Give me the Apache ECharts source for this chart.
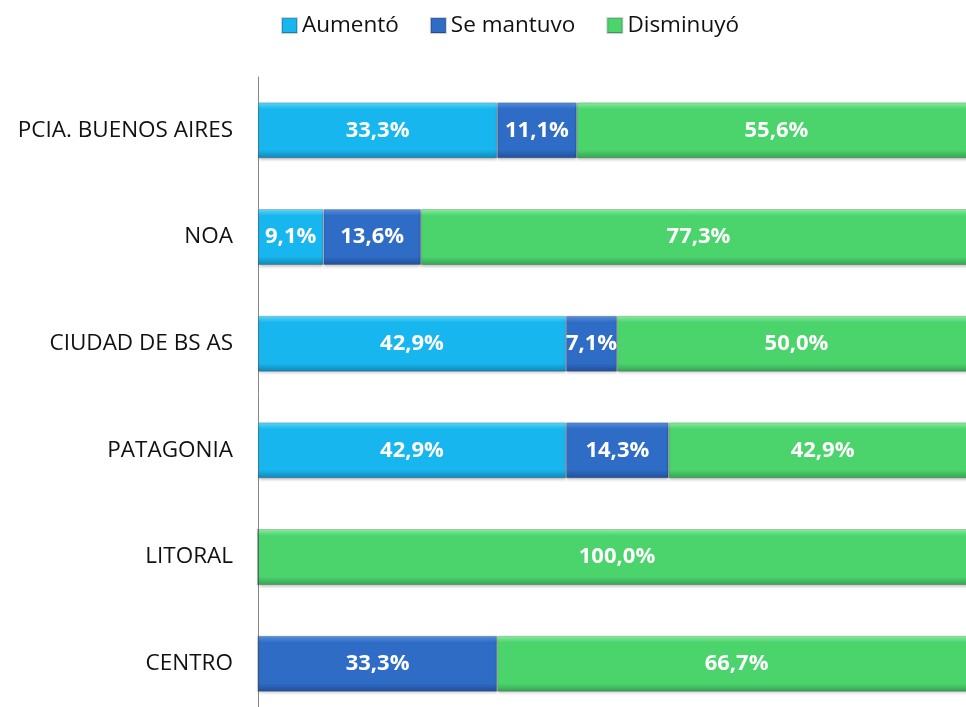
<!DOCTYPE html>
<html>
<head>
<meta charset="utf-8">
<script src="https://cdn.jsdelivr.net/npm/echarts@6/dist/echarts.min.js"></script>
<style>html,body{margin:0;padding:0;background:#fff}#c{width:966px;height:707px}</style>
</head>
<body>
<div id="c"></div>
<script>
const categories = ['CENTRO', 'LITORAL', 'PATAGONIA', 'CIUDAD DE BS AS', 'NOA', 'PCIA. BUENOS AIRES'];
const seriesNames = ['Aumentó', 'Se mantuvo', 'Disminuyó'];
const aumento = [0, 0, 42.9, 42.9, 9.1, 33.3];
const seMantuvo = [33.3, 0, 14.3, 7.1, 13.6, 11.1];
const disminuyo = [66.7, 100.0, 42.9, 50.0, 77.3, 55.6];

function bevel(light, mid, dark) {
  return new echarts.graphic.LinearGradient(0, 0, 0, 1, [
    {offset: 0, color: light},
    {offset: 0.12, color: mid},
    {offset: 0.85, color: mid},
    {offset: 1, color: dark}
  ]);
}
const styles = [
  bevel('#62dafc', '#18b6ef', '#0f86b5'),
  bevel('#5b93e0', '#2e6cc6', '#1f4f98'),
  bevel('#8ff0a6', '#4bd46c', '#36a253')
];
const datasets = [aumento, seMantuvo, disminuyo];

const chart = echarts.init(document.getElementById('c'));
chart.setOption({
  animation: false,
  legend: {
    top: 9,
    left: 276,
    itemWidth: 15,
    itemHeight: 15,
    itemGap: 31,
    icon: 'rect',
    textStyle: {fontFamily: 'Open Sans', fontSize: 22.5, color: '#111'},
    data: seriesNames
  },
  grid: {left: 258, width: 718, top: 77, height: 640, containLabel: false, outerBoundsMode: 'none'},
  xAxis: {type: 'value', min: 0, max: 100, show: false},
  yAxis: {
    type: 'category',
    data: categories,
    axisLine: {show: true, lineStyle: {color: '#888', width: 1}},
    axisTick: {show: false},
    axisLabel: {fontFamily: 'Open Sans', fontSize: 22.5, color: '#111', margin: 25}
  },
  series: seriesNames.map((n, i) => ({
    name: n,
    type: 'bar',
    stack: 'total',
    barWidth: '52.5%',
    data: datasets[i],
    itemStyle: {color: styles[i], borderColor: 'rgba(0,0,0,0.18)', borderWidth: 1,
      shadowColor: 'rgba(0,0,0,0.25)', shadowBlur: 3, shadowOffsetY: 2},
    label: {
      show: true,
      position: 'inside',
      color: '#fff',
      fontFamily: 'Open Sans',
      fontWeight: 'bold',
      fontSize: 22,
      formatter: p => p.value > 0 ? p.value.toFixed(1).replace('.', ',') + '%' : ''
    }
  }))
});
</script>
</body>
</html>
